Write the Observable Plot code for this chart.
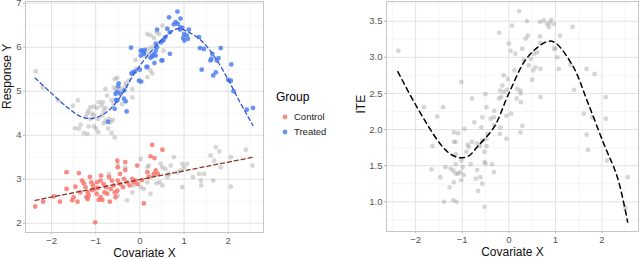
<!DOCTYPE html>
<html>
<head>
<meta charset="utf-8">
<script src="https://cdn.jsdelivr.net/npm/d3@7"></script>
<script src="https://cdn.jsdelivr.net/npm/@observablehq/plot@0.6"></script>
<style>
  html, body { margin: 0; padding: 0; background: #fff; }
  #wrap { position: relative; width: 640px; height: 259px; font-family: "Liberation Sans", Arial, sans-serif; }
  #left { position: absolute; left: 0; top: 0; }
  #right { position: absolute; left: 340px; top: 0; }
  #legend { position: absolute; left: 276px; top: 90px; color: #000; }
  #legend .title { font-size: 12px; margin-bottom: 5px; }
  #legend .row { font-size: 9.5px; color: #222; height: 15px; display: flex; align-items: center; }
  #legend .row svg { margin-right: 6px; margin-left: 6px; }
</style>
</head>
<body>
<div id="wrap">
  <div id="left"></div>
  <div id="legend"></div>
  <div id="right"></div>
</div>
<script>
// ---------------- data ----------------
const groups = ["Control", "Treated"];
const groupColors = ["#F8766D", "#4F7FEF"];

const xTicks = [-2, -1, 0, 1, 2];
const xMinor = [-2.5, -1.5, -0.5, 0.5, 1.5, 2.5];
const yTicksLeft = [2, 3, 4, 5, 6, 7];
const yMinorLeft = [2.5, 3.5, 4.5, 5.5, 6.5];
const yTicksRight = [1.0, 1.5, 2.0, 2.5, 3.0, 3.5];
const yMinorRight = [0.75, 1.25, 1.75, 2.25, 2.75, 3.25, 3.75];

// Treated units (observed outcome)
const treatedPts = [
  [0.85,6.81],[0.66,6.68],[0.92,6.65],[0.81,6.57],[0.77,6.52],[0.86,6.53],[0.92,6.45],[0.96,6.44],
  [0.91,6.40],[0.68,6.34],[0.62,6.42],[1.11,6.40],[1.00,6.30],[1.06,6.27],[0.98,6.21],[1.01,6.15],
  [1.09,6.19],[0.39,6.40],[0.58,6.23],[0.54,6.17],[0.47,6.11],[0.51,6.14],[0.36,6.08],[0.39,6.00],
  [0.36,5.92],[0.32,5.85],[0.36,5.81],[0.68,5.85],[0.51,5.70],[0.24,5.76],[0.28,5.79],[0.33,5.64],
  [0.05,5.92],[0.09,5.89],[0.02,5.81],[0.17,5.55],[1.34,6.23],[1.36,5.98],[1.45,5.96],[1.83,5.98],
  [1.64,5.85],[1.62,5.74],[1.60,5.70],[1.78,5.75],[1.74,5.70],[1.40,5.49],[1.72,5.43],[1.66,5.36],
  [2.07,5.61],[2.06,5.24],[2.00,5.26],[2.12,5.00],[2.42,4.58],[2.56,4.62],[-0.20,5.99],[0.02,5.92],
  [0.11,5.94],[0.09,5.85],[-0.16,5.43],[-0.19,5.40],[-0.11,5.45],[0.00,5.49],[-0.02,5.24],[0.02,5.22],
  [-0.48,5.18],[-0.49,5.11],[-0.35,5.02],[-0.51,4.98],[-0.55,4.94],[-0.44,4.94],[-0.54,4.80],[-0.51,4.79],
  [-0.36,4.83],[-0.32,4.77],[-0.57,4.60],[-0.30,4.54],[-0.72,4.30],[0.28,5.81],[0.15,5.55],[0.49,5.70]
];
// Control units (observed outcome)
const controlPts = [
  [-2.37,2.38],[-2.19,2.49],[-1.95,2.61],[-1.81,2.49],[-1.66,3.16],[-1.66,2.78],[-1.53,2.52],[-1.46,2.83],
  [-1.41,2.49],[-1.38,3.14],[-1.35,2.70],[-1.27,2.91],[-1.23,2.82],[-1.18,2.70],[-1.21,2.59],[-1.18,2.55],
  [-1.16,2.63],[-1.13,3.05],[-1.10,2.93],[-1.06,2.86],[-1.03,2.78],[-1.01,2.02],[-0.98,2.67],[-0.93,2.53],
  [-0.89,2.59],[-0.85,2.53],[-0.97,2.93],[-0.89,2.97],[-0.88,3.08],[-0.82,2.89],[-0.80,2.70],[-0.76,2.82],
  [-0.74,2.67],[-0.70,3.05],[-0.63,2.97],[-0.59,2.86],[-0.57,2.70],[-0.68,2.49],[-0.51,3.42],[-0.50,3.27],
  [-0.45,3.12],[-0.50,2.97],[-0.44,2.89],[-0.55,2.59],[-0.51,2.74],[-0.36,3.01],[-0.33,3.39],[-0.33,3.21],
  [-0.29,2.93],[-0.38,2.82],[-0.23,2.86],[-0.17,3.01],[-0.14,2.93],[-0.10,2.97],[-0.06,3.31],[0.09,2.45],
  [0.17,3.16],[0.20,3.05],[0.24,3.52],[0.28,3.78],[0.32,3.12],[0.36,3.20],[0.41,3.12],[0.51,3.67],
  [0.33,3.48],[0.05,2.98],[-0.05,2.89],[-1.31,2.97],[-1.50,2.59],[-1.08,2.75],[-0.95,2.80],[-0.66,2.78]
];
// Counterfactual outcomes (grey)
const greyPts = [
  [-2.36,5.45],[-2.20,5.08],[-1.85,4.79],[-1.40,4.79],[-1.52,4.67],[-1.12,4.64],[-1.04,4.65],[-0.97,4.62],
  [-1.16,4.56],[-1.19,4.49],[-1.08,4.49],[-1.23,4.41],[-1.12,4.37],[-0.93,4.75],[-0.84,4.75],[-0.87,4.67],
  [-0.78,5.05],[-0.59,5.08],[-0.54,5.03],[-0.46,5.00],[-0.41,5.05],[-0.74,4.90],[-0.64,4.79],[-0.59,4.71],
  [-0.78,4.62],[-0.82,4.56],[-1.04,4.45],[-0.94,4.37],[-0.85,4.45],[-0.70,4.37],[-0.61,4.35],[-0.66,4.30],
  [-0.78,4.33],[-0.82,4.27],[-1.47,4.16],[-1.38,4.15],[-1.34,4.24],[-1.16,4.20],[-1.04,4.20],[-1.27,4.05],
  [-1.19,4.03],[-0.99,4.15],[-0.94,4.07],[-0.64,4.05],[-0.57,3.95],[-0.72,4.15],[-0.32,5.11],[-0.25,5.24],
  [-0.40,4.71],[-0.17,4.86],[-0.10,5.71],[-0.08,5.51],[0.05,5.22],[-0.17,5.05],[-0.32,5.18],[-0.51,5.30],
  [-0.57,5.28],[0.51,6.49],[0.17,6.30],[0.24,6.27],[0.32,6.21],[0.38,6.34],[0.43,6.30],[0.28,6.00],
  [0.20,5.96],[0.54,5.92],[0.09,5.81],[0.17,5.85],[0.24,5.47],[0.28,5.40],[0.17,5.32],
  [-0.29,2.52],[-0.17,2.70],[-0.14,2.86],[0.02,2.82],[0.09,2.78],[0.02,3.46],[0.17,3.27],[0.20,3.31],
  [0.24,2.67],[0.45,2.93],[0.51,2.86],[0.58,3.23],[0.66,3.12],[0.70,3.31],[0.62,3.05],[0.77,3.50],
  [0.96,3.35],[1.00,3.27],[0.92,3.20],[1.07,3.35],[0.96,2.82],[1.34,3.12],[1.45,3.12],[1.38,2.97],
  [1.39,2.86],[1.60,3.54],[1.68,3.42],[1.72,3.73],[1.80,3.63],[1.83,3.27],[1.66,2.97],[2.06,3.50],
  [2.06,2.83],[2.40,3.67],[2.55,3.31],[0.51,3.27],[0.47,3.35],[0.28,3.08],[0.17,2.93],[0.38,2.91],
  [-0.50,2.63],[-0.33,3.27],[-0.70,3.12],[-0.50,3.33],[0.85,3.15],[1.20,3.05]
];
// Fitted curves
const treatedCurve = [
  [-2.37,5.30],[-2.03,4.98],[-1.65,4.64],[-1.35,4.43],[-1.08,4.38],[-0.82,4.48],[-0.59,4.68],[-0.36,5.00],
  [-0.14,5.38],[0.09,5.70],[0.32,5.98],[0.62,6.28],[0.85,6.42],[1.07,6.36],[1.38,6.16],[1.68,5.80],
  [1.98,5.30],[2.24,4.80],[2.56,4.22]
];
const controlLine = [[-2.37,2.52],[2.56,3.50]];

// Individual treatment effects
const itePts = [
  [-2.37,3.09],[-1.82,2.31],[-1.54,2.18],[-1.41,2.31],[-1.64,1.77],[-1.66,1.45],[-1.47,1.34],[-1.36,1.48],
  [-1.25,1.46],[-1.19,1.43],[-1.14,1.39],[-1.09,1.39],[-1.27,1.20],[-1.18,1.27],[-1.39,1.00],[-1.19,1.02],
  [-1.12,1.00],[-1.18,1.83],[-1.14,1.83],[-1.18,1.96],[-1.09,1.95],[-1.14,1.66],[-1.14,1.52],[-1.02,2.66],
  [-0.95,2.01],[-0.91,1.69],[-0.86,1.76],[-0.88,1.79],[-0.99,1.48],[-1.02,1.57],[-1.04,1.41],[-1.02,1.30],
  [-0.97,1.37],[-0.82,1.52],[-0.79,2.43],[-0.79,1.83],[-0.68,1.81],[-0.74,2.10],[-0.68,1.44],[-0.71,1.32],
  [-0.66,1.15],[-0.61,1.34],[-0.57,1.85],[-0.62,1.77],[-0.59,2.03],[-0.57,2.17],[-0.57,1.25],[-0.52,1.69],
  [-0.52,1.55],[-0.50,1.53],[-0.52,0.93],[-0.50,2.49],[-0.48,2.31],[-0.48,1.77],[-0.46,1.94],[-0.48,1.87],
  [-0.39,2.15],[-0.36,1.52],[-0.32,1.41],[-0.31,2.26],[-0.32,2.17],[-0.31,2.06],[-0.21,2.43],[-0.21,3.34],
  [-0.19,2.54],[-0.18,2.03],[-0.19,1.94],[-0.14,2.61],[-0.11,2.52],[-0.16,2.45],[-0.11,2.75],[-0.04,2.55],
  [-0.05,2.19],[-0.05,1.87],[0.00,3.19],[0.04,3.09],[-0.02,2.70],[0.05,2.22],[0.07,3.44],[0.14,3.05],
  [0.12,2.82],[0.18,2.56],[0.17,2.43],[0.25,2.54],[0.25,2.50],[0.25,1.96],[0.29,2.05],[0.26,2.38],
  [0.22,3.64],[0.29,3.12],[0.32,2.96],[0.36,3.26],[0.39,3.50],[0.41,3.30],[0.43,2.89],[0.47,2.98],
  [0.50,2.69],[0.52,2.82],[0.54,3.05],[0.57,2.86],[0.61,3.07],[0.67,3.29],[0.67,3.20],[0.68,2.45],
  [0.68,2.84],[0.67,3.49],[0.75,3.51],[0.82,3.46],[0.86,3.42],[0.88,3.48],[0.91,3.52],[0.97,3.46],
  [0.97,3.12],[1.00,3.12],[1.04,3.00],[1.10,3.30],[1.07,2.84],[1.32,2.90],[1.37,3.42],[1.40,2.55],
  [1.61,2.22],[1.67,1.93],[1.70,1.72],[1.67,2.84],[1.79,2.17],[1.84,2.77],[2.08,2.45],[2.08,2.15],
  [2.11,1.57],[2.50,0.92],[2.55,1.34]
];
const iteCurve = [
  [-2.38,2.80],[-1.98,2.32],[-1.47,1.80],[-1.25,1.66],[-1.04,1.61],[-0.85,1.64],[-0.68,1.76],[-0.32,2.03],
  [0.00,2.50],[0.40,3.00],[0.83,3.22],[1.00,3.20],[1.39,2.86],[1.68,2.40],[2.04,1.80],[2.33,1.34],[2.55,0.72]
];

// ---------------- styles ----------------
const FONT = "Liberation Sans, Arial, sans-serif";
const majorGrid = "#e2e2e2";
const minorGrid = "#f0f0f0";
const frameCol = "#c6c6c6";
const tickText = "#555";

function panelMarks(yMajor, yMinor, yFmt) {
  return [
    Plot.gridX(xMinor, {stroke: minorGrid, strokeOpacity: 1, strokeWidth: 0.6}),
    Plot.gridY(yMinor, {stroke: minorGrid, strokeOpacity: 1, strokeWidth: 0.6}),
    Plot.gridX(xTicks, {stroke: majorGrid, strokeOpacity: 1, strokeWidth: 1}),
    Plot.gridY(yMajor, {stroke: majorGrid, strokeOpacity: 1, strokeWidth: 1}),
    Plot.axisX(xTicks, {tickSize: 2, tickPadding: 3, stroke: "#b3b3b3", color: tickText, fontSize: 9.5, label: null,
      tickFormat: d => d < 0 ? "\u2212" + Math.abs(d) : String(d)}),
    Plot.axisY(yMajor, {tickSize: 2, tickPadding: 2, stroke: "#b3b3b3", color: tickText, fontSize: 9.5, label: null,
      tickFormat: yFmt}),
  ];
}

// ---------------- left panel ----------------
const left = Plot.plot({
  width: 270, height: 259,
  marginLeft: 25, marginRight: 7, marginTop: 1, marginBottom: 27,
  style: {fontFamily: FONT, background: "transparent", overflow: "visible"},
  x: {domain: [-2.589, 2.799]},
  y: {domain: [1.789, 7.039]},
  marks: [
    ...panelMarks(yTicksLeft, yMinorLeft, d => String(d)),
    Plot.dot(greyPts, {x: d => d[0], y: d => d[1], r: 2.4, fill: "#999", fillOpacity: 0.4, stroke: "none"}),
    Plot.dot(controlPts, {x: d => d[0], y: d => d[1], r: 2.4, fill: groupColors[0], fillOpacity: 0.85, stroke: "none"}),
    Plot.dot(treatedPts, {x: d => d[0], y: d => d[1], r: 2.4, fill: groupColors[1], fillOpacity: 0.85, stroke: "none"}),
    Plot.line(treatedCurve, {x: d => d[0], y: d => d[1], curve: "catmull-rom", stroke: "#2F55CF", strokeWidth: 1.3, strokeDasharray: "4,3"}),
    Plot.line(controlLine, {x: d => d[0], y: d => d[1], stroke: "#8B3526", strokeWidth: 1.3, strokeDasharray: "4,3"}),
    Plot.frame({stroke: frameCol, strokeWidth: 1}),
    Plot.text(["Covariate X"], {frameAnchor: "bottom", lineAnchor: "middle", dy: 21, fontSize: 12, fill: "#111"}),
    Plot.text(["Response Y"], {frameAnchor: "left", lineAnchor: "middle", dx: -18, dy: -8, rotate: -90, fontSize: 12, fill: "#111"})
  ]
});
document.getElementById("left").appendChild(left);

// ---------------- right panel ----------------
const right = Plot.plot({
  width: 300, height: 259,
  marginLeft: 46, marginRight: 2, marginTop: 1, marginBottom: 28,
  style: {fontFamily: FONT, background: "transparent", overflow: "visible"},
  x: {domain: [-2.625, 2.783]},
  y: {domain: [0.589, 3.773]},
  marks: [
    ...panelMarks(yTicksRight, yMinorRight, d => d.toFixed(1)),
    Plot.dot(itePts, {x: d => d[0], y: d => d[1], r: 2.4, fill: "#999", fillOpacity: 0.4, stroke: "none"}),
    Plot.line(iteCurve, {x: d => d[0], y: d => d[1], curve: "catmull-rom", stroke: "#000", strokeWidth: 1.5, strokeDasharray: "5,4"}),
    Plot.frame({stroke: frameCol, strokeWidth: 1}),
    Plot.text(["Covariate X"], {frameAnchor: "bottom", lineAnchor: "middle", dy: 21, fontSize: 12, fill: "#111"}),
    Plot.text(["ITE"], {frameAnchor: "left", lineAnchor: "middle", dx: -25, dy: -3, rotate: -90, fontSize: 12, fill: "#111"})
  ]
});
document.getElementById("right").appendChild(right);

// ---------------- legend ----------------
const leg = d3.select("#legend");
leg.append("div").attr("class", "title").text("Group");
groups.forEach((g, i) => {
  const row = leg.append("div").attr("class", "row");
  const s = row.append("svg").attr("width", 6).attr("height", 6);
  s.append("circle").attr("cx", 3).attr("cy", 3).attr("r", 2.4).attr("fill", groupColors[i]).attr("fill-opacity", 0.85);
  row.append("span").text(g);
});
</script>
</body>
</html>
